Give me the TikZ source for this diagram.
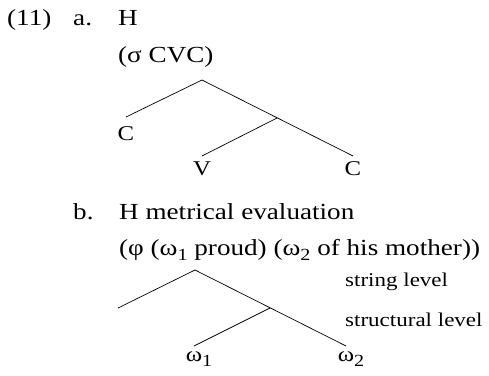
\documentclass[tikz,border=0pt]{standalone}
\usepackage{fontspec}
\setmainfont{Liberation Serif}[FakeStretch=1.18]
\newcommand{\lowidx}[1]{\raisebox{-5pt}{\fontsize{17}{20}\selectfont #1}}

\begin{document}
\begin{tikzpicture}[
    x=1pt,y=-1pt,
    txt/.style={anchor=base west,inner sep=0pt,font=\fontsize{23}{28}\selectfont},
    lvl/.style={anchor=base west,inner sep=0pt,font=\fontsize{19.5}{24}\selectfont},
    leaf/.style={anchor=north,inner sep=0pt,outer ysep=6pt,font=\fontsize{21}{25}\selectfont},
    branch/.style={line width=0.7pt}
]
  \useasboundingbox (0,0) rectangle (489,375);

  % Example (11a)
  \node[txt] (num) at (7,25) {(11)};
  \node[txt] (la) at (73,25) {a.};
  \node[txt] (ha) at (118,25) {H};
  \node[txt] (syl) at (118,62) {(σ CVC)};

  % Tree (11a)
  \coordinate (sa) at (202,80);
  \coordinate (ra) at (277,118);
  \node[leaf,outer ysep=10pt] (c1) at (126,117) {C};
  \node[leaf] (v) at (202,156) {V};
  \node[leaf] (c2) at (353,156) {C};
  \draw[branch] (c1.north) -- (sa) -- (c2.north);
  \draw[branch] (ra) -- (v.north);

  % Example (11b)
  \node[txt] (lb) at (73,219.5) {b.};
  \node[txt] (hb) at (119,219.5) {H metrical evaluation};
  \node[txt] (phr) at (119,255.5) {(φ (ω\lowidx{1} proud) (ω\lowidx{2} of his mother))};
  \node[lvl] (str) at (345,286) {string level};
  \node[lvl] (stc) at (345,326) {structural level};

  % Tree (11b)
  \coordinate (sb) at (195,270);
  \coordinate (eb) at (118,308);
  \coordinate (rb) at (270,308);
  \node[leaf] (w1) at (194,346) {ω\rlap{\lowidx{1}}};
  \node[leaf] (w2) at (346,346) {ω\rlap{\lowidx{2}}};
  \draw[branch] (eb) -- (sb) -- (w2.north);
  \draw[branch] (rb) -- (w1.north);
\end{tikzpicture}
\end{document}
